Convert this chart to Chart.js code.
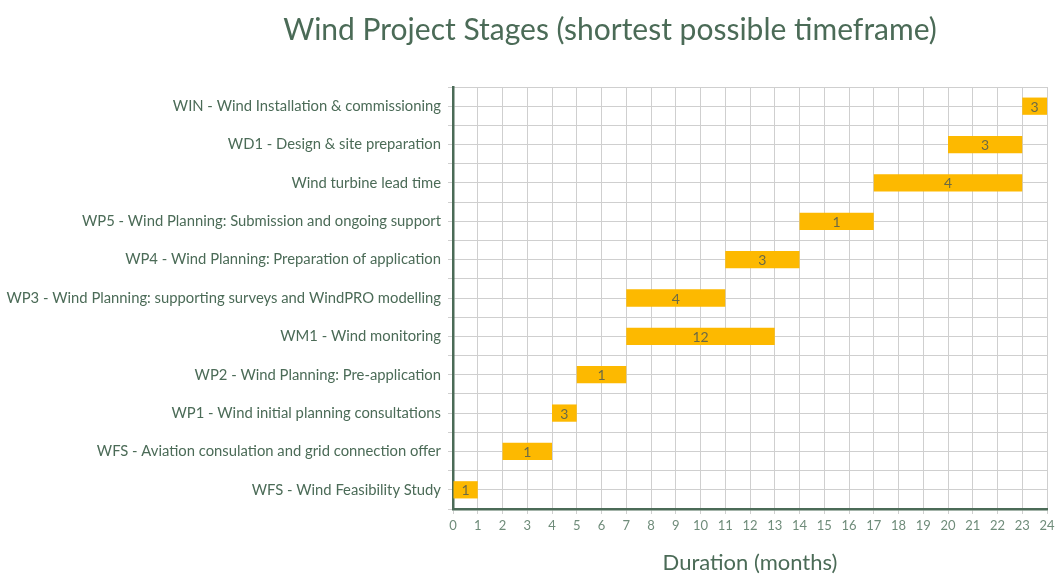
<!DOCTYPE html>
<html>
<head>
<meta charset="utf-8">
<title>Wind Project Stages</title>
<script src="https://cdn.jsdelivr.net/npm/chart.js@4"></script>
<style>
    html, body { margin: 0; padding: 0; background: #ffffff; }
    #wrap { position: relative; width: 1064px; height: 583px; }
    #chartTitle {
        position: absolute;
        top: 10px;
        left: 610px;
        transform: translateX(-50%);
        white-space: nowrap;
        font-family: 'Lato', sans-serif;
        font-weight: 400;
        font-size: 30px;
        color: #4b6b57;
    }
</style>
</head>
<body>
<div id="wrap">
    <canvas id="stagesChart" width="1064" height="583"></canvas>
    <div id="chartTitle">Wind Project Stages (shortest possible timeframe)</div>
</div>
<script>
// Stages, listed top to bottom
const stages = [
    'WIN - Wind Installation & commissioning',
    'WD1 - Design & site preparation',
    'Wind turbine lead time',
    'WP5 - Wind Planning: Submission and ongoing support',
    'WP4 - Wind Planning: Preparation of application',
    'WP3 - Wind Planning: supporting surveys and WindPRO modelling',
    'WM1 - Wind monitoring',
    'WP2 - Wind Planning: Pre-application',
    'WP1 - Wind initial planning consultations',
    'WFS - Aviation consulation and grid connection offer',
    'WFS - Wind Feasibility Study'
];

// start / end month of each stage
const startMonths = [23, 20, 17, 14, 11, 7, 7, 5, 4, 2, 0];
const endMonths   = [24, 23, 23, 17, 14, 11, 13, 7, 5, 4, 1];

// numbers printed on the bars
const barLabels = [3, 3, 4, 1, 3, 4, 12, 1, 3, 1, 1];

const monthTicks = [0, 24];

const textColor = '#4b6b57';
const gridColor = '#cfcfcf';
const barColor = '#fdb900';

// draw the bar numbers in the middle of each bar
const barLabelPlugin = {
    id: 'barLabels',
    afterDatasetsDraw(chart) {
        const ctx = chart.ctx;
        const meta = chart.getDatasetMeta(0);
        ctx.save();
        ctx.font = '14px Lato, sans-serif';
        ctx.fillStyle = '#6b6a45';
        ctx.textAlign = 'center';
        ctx.textBaseline = 'middle';
        meta.data.forEach((bar, i) => {
            const p = bar.getCenterPoint();
            ctx.fillText(String(barLabels[i]), p.x, p.y + 1);
        });
        ctx.restore();
    }
};

const ctx = document.getElementById('stagesChart').getContext('2d');
const stagesChart = new Chart(ctx, {
    type: 'bar',
    data: {
        labels: stages,
        datasets: [{
            label: 'Duration',
            data: stages.map((s, i) => [startMonths[i], endMonths[i]]),
            backgroundColor: barColor,
            borderWidth: 0,
            borderSkipped: false,
            categoryPercentage: 1,
            barPercentage: 0.45,
            yAxisID: 'y'
        }]
    },
    options: {
        indexAxis: 'y',
        responsive: false,
        animation: false,
        devicePixelRatio: 1,
        layout: {
            padding: { top: 87, right: 17, left: 0, bottom: 0 }
        },
        plugins: {
            legend: { display: false },
            title: { display: false },
            tooltip: { enabled: false }
        },
        scales: {
            x: {
                type: 'linear',
                min: monthTicks[0],
                max: monthTicks[1],
                border: { color: textColor, width: 2.5 },
                grid: { color: gridColor, lineWidth: 1, tickLength: 5 },
                ticks: {
                    stepSize: 1,
                    padding: 4,
                    color: '#6f8c7a',
                    font: { family: 'Lato', size: 13 }
                },
                title: {
                    display: true,
                    text: 'Duration (months)',
                    color: textColor,
                    font: { family: 'Lato', size: 22, weight: 400 },
                    padding: { top: 0, bottom: 7 }
                },
                afterFit(scale) { scale.height = 74; }
            },
            y: {
                type: 'category',
                position: 'left',
                weight: 1,
                border: { color: textColor, width: 2.5 },
                grid: { color: gridColor, lineWidth: 1, offset: false, tickLength: 5 },
                ticks: {
                    padding: 7,
                    color: textColor,
                    font: { family: 'Lato', size: 14.8 }
                },
                afterFit(scale) { scale.width = 453; }
            },
            y2: {
                type: 'category',
                position: 'left',
                weight: 0,
                labels: stages,
                border: { display: false },
                grid: { color: gridColor, lineWidth: 1, offset: true, tickLength: 5 },
                ticks: { display: false },
                afterFit(scale) { scale.width = 0; }
            }
        }
    },
    plugins: [barLabelPlugin]
});
</script>
</body>
</html>
